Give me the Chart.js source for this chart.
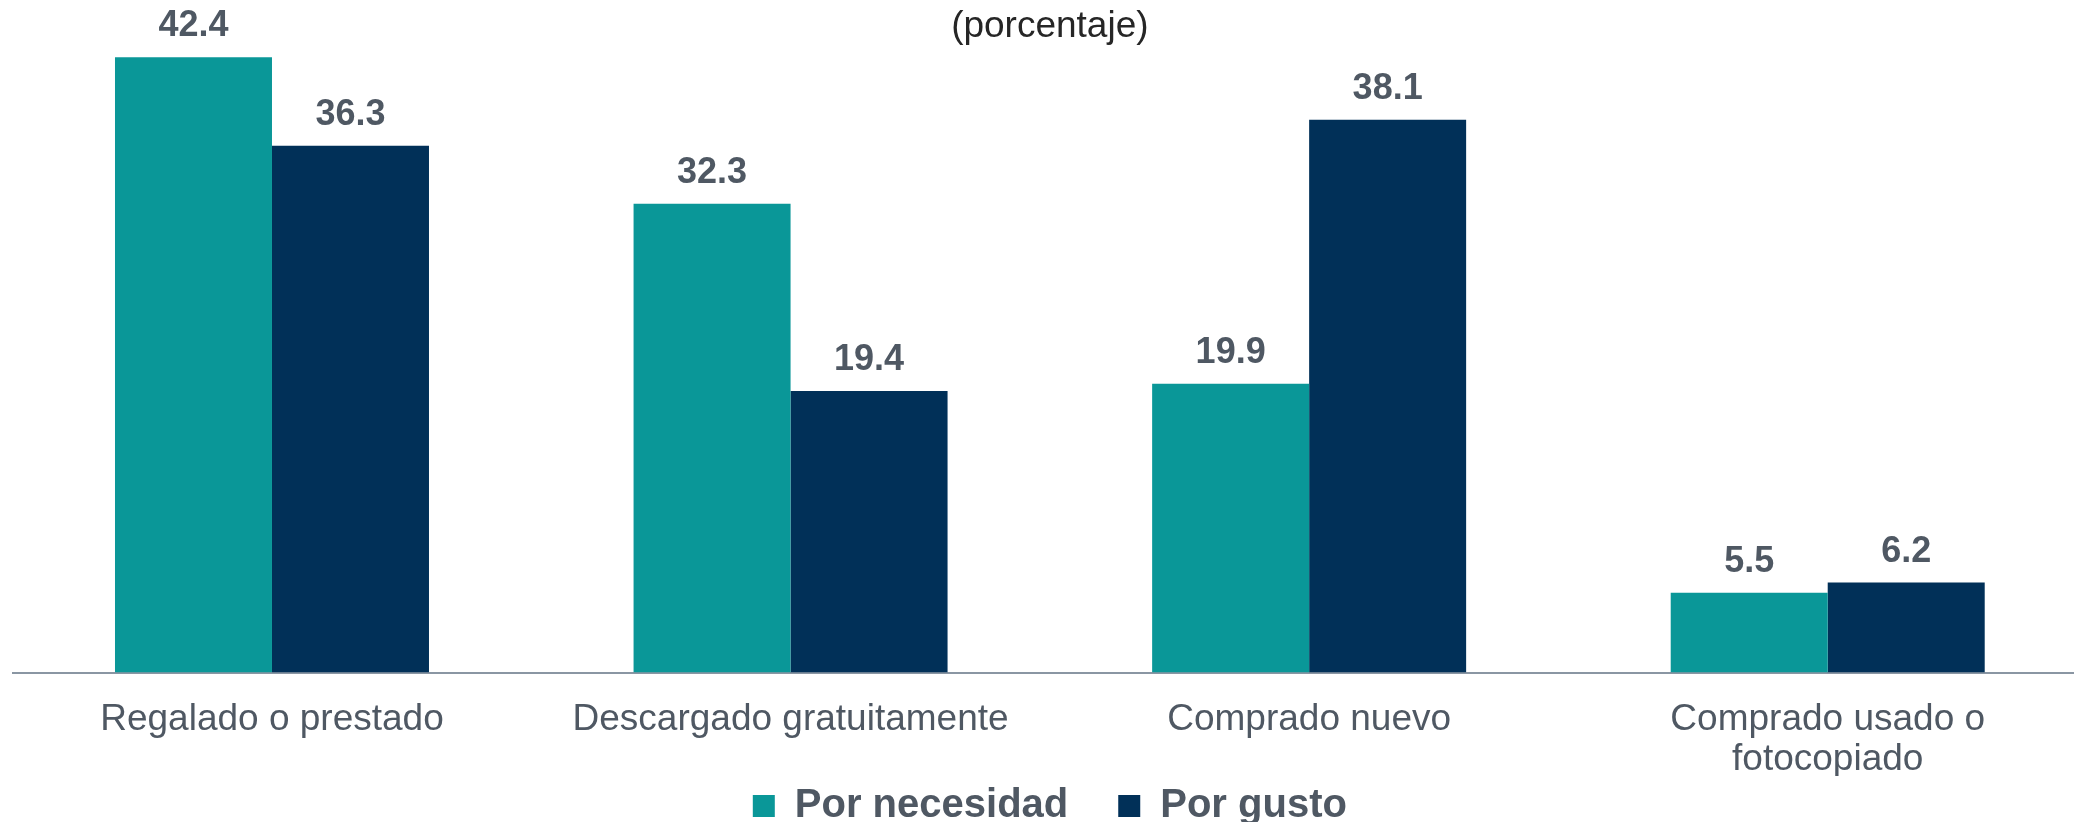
<!DOCTYPE html>
<html>
<head>
<meta charset="utf-8">
<script src="https://cdn.jsdelivr.net/npm/chart.js@4/dist/chart.umd.min.js"></script>
<style>
  body { margin: 0; overflow: hidden; background: #fff; }
  canvas { display: block; }
</style>
</head>
<body>
<canvas id="grafico" width="2100" height="822"></canvas>
<script>
// datos del grafico
const categorias = ['Regalado o prestado', 'Descargado gratuitamente', 'Comprado nuevo', ['Comprado usado o', 'fotocopiado']]
const porNecesidad = [42.4, 32.3, 19.9, 5.5]
const porGusto = [36.3, 19.4, 38.1, 6.2]
const series = ['Por necesidad', 'Por gusto']

const colorTexto = '#4f5863'
const fuente = '"Liberation Sans", Arial, sans-serif'

// escribe el valor encima de cada barra
const etiquetasValor = {
  id: 'etiquetasValor',
  afterDatasetsDraw(chart) {
    const ctx = chart.ctx
    ctx.save()
    ctx.font = 'bold 36px ' + fuente
    ctx.fillStyle = colorTexto
    ctx.textAlign = 'center'
    ctx.textBaseline = 'alphabetic'
    chart.data.datasets.forEach(function(ds, i) {
      const meta = chart.getDatasetMeta(i)
      meta.data.forEach(function(barra, j) {
        ctx.fillText(ds.data[j].toFixed(1), barra.x, barra.y - 21)
      })
    })
    ctx.restore()
  }
}

new Chart(document.getElementById('grafico'), {
  type: 'bar',
  data: {
    labels: categorias,
    datasets: [
      { label: series[0], data: porNecesidad, backgroundColor: '#0a9798', borderWidth: 0 },
      { label: series[1], data: porGusto, backgroundColor: '#013058', borderWidth: 0 }
    ]
  },
  options: {
    responsive: false,
    animation: false,
    categoryPercentage: 0.6055,
    barPercentage: 1,
    layout: { padding: { left: 12.7, right: 13, top: 0, bottom: -14 } },
    scales: {
      x: {
        grid: { display: false, drawTicks: false },
        border: { display: true, color: '#8a96a3', width: 2 },
        ticks: {
          color: colorTexto,
          padding: 27.5,
          font: { family: fuente, size: 37, lineHeight: 1.081 }
        },
        afterFit(escala) { escala.height = 103.5 }
      },
      y: {
        display: false,
        min: 0,
        max: 42.94
      }
    },
    plugins: {
      tooltip: { enabled: false },
      title: {
        display: true,
        text: '(porcentaje)',
        color: '#262626',
        padding: { top: 5, bottom: 0 },
        font: { family: fuente, size: 37, weight: 'normal', lineHeight: 1.2 }
      },
      legend: {
        position: 'bottom',
        labels: {
          color: colorTexto,
          boxWidth: 22,
          boxHeight: 22,
          padding: 10,
          font: { family: fuente, size: 40, weight: 'bold' },
          generateLabels(chart) {
            const items = Chart.defaults.plugins.legend.labels.generateLabels(chart)
            // espacio extra entre las dos series
            items.forEach(function(item, i) {
              if (i < items.length - 1) item.text = item.text + '\u2002\u2002'
            })
            return items
          }
        }
      }
    }
  },
  plugins: [etiquetasValor]
})
</script>
</body>
</html>
